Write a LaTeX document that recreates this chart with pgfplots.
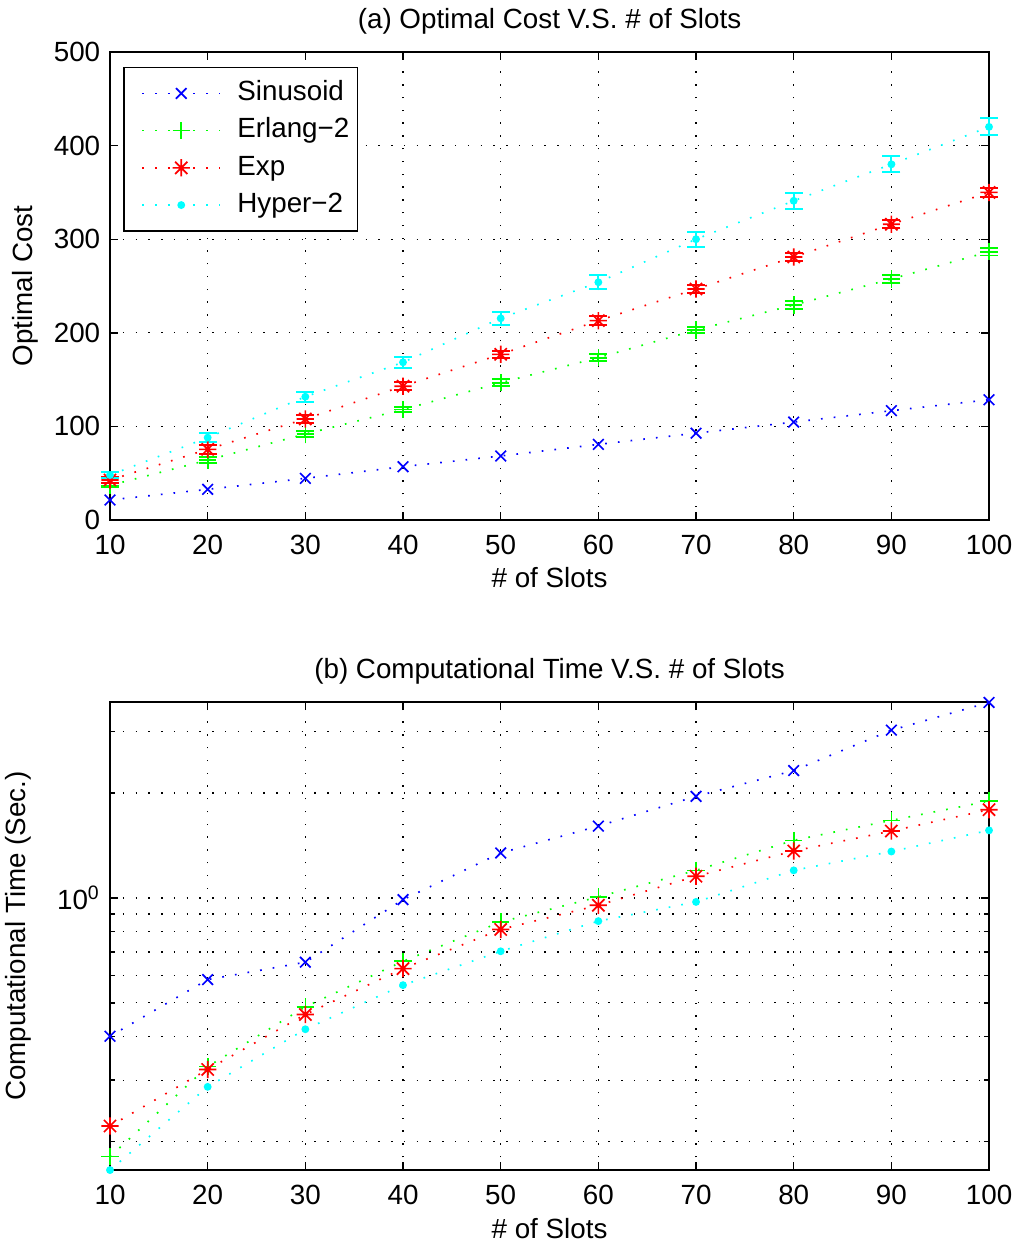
\documentclass[border=0pt]{standalone}
\usepackage{fontspec}
\setmainfont{Liberation Sans}
\usepackage{pgfplots}
\pgfplotsset{compat=1.18}

\definecolor{mblue}{rgb}{0,0,1}
\definecolor{mgreen}{rgb}{0,1,0}
\definecolor{mred}{rgb}{1,0,0}
\definecolor{mcyan}{rgb}{0,1,1}

% matlab style asterisk: + and x together
\pgfdeclareplotmark{star8}{%
  \pgfpathmoveto{\pgfqpoint{0pt}{\pgfplotmarksize}}%
  \pgfpathlineto{\pgfqpoint{0pt}{-\pgfplotmarksize}}%
  \pgfpathmoveto{\pgfqpoint{\pgfplotmarksize}{0pt}}%
  \pgfpathlineto{\pgfqpoint{-\pgfplotmarksize}{0pt}}%
  \pgfpathmoveto{\pgfqpoint{0.707\pgfplotmarksize}{0.707\pgfplotmarksize}}%
  \pgfpathlineto{\pgfqpoint{-0.707\pgfplotmarksize}{-0.707\pgfplotmarksize}}%
  \pgfpathmoveto{\pgfqpoint{-0.707\pgfplotmarksize}{0.707\pgfplotmarksize}}%
  \pgfpathlineto{\pgfqpoint{0.707\pgfplotmarksize}{-0.707\pgfplotmarksize}}%
  \pgfusepathqstroke}

\pgfplotsset{
  mline/.style={dash pattern=on 0.6pt off 4pt, line width=0.6pt},
  mat/.style={
    scale only axis, width=316.44pt, height=168.48pt,
    xmin=10, xmax=100, xtick={10,20,...,100},
    tick align=inside, major tick length=3pt, minor tick length=1.8pt,
    tick style={black, line width=0.5pt},
    axis line style={line width=0.7pt},
    grid style={black, line width=0.45pt, dash pattern=on 0.5pt off 4.1pt},
    clip=false,
    /pgf/number format/assume math mode=true,
    xticklabel style={yshift=-2pt},
    xlabel style={at={(axis description cs:0.5,-0.124)}, anchor=center},
    title style={at={(axis description cs:0.5,1)}, anchor=center, yshift=5pt},
    legend image code/.code={%
      \path (-5pt,0pt) (32.3pt,0pt);
      \draw[mark repeat=2,mark phase=2] plot coordinates {(0pt,0pt) (14pt,0pt) (28pt,0pt)};},
  },
  sin/.style={mblue, mline, mark=x, mark size=2.7pt, mark options={solid, line width=0.6pt}},
  erl/.style={mgreen, mline, mark=+, mark size=3.1pt, mark options={solid, line width=0.6pt}},
  exps/.style={mred, mline, mark=star8, mark size=3.1pt, mark options={solid, line width=0.6pt}},
  hyp/.style={mcyan, mline, mark=*, mark size=1.1pt, mark options={solid}},
  ebar/.style={error bars/.cd, y dir=both, y explicit,
    error mark=|,
    error bar style={solid, line width=0.7pt},
    error mark options={solid, line width=0.7pt, mark size=3.2pt}},
}

\begin{document}
\begin{tikzpicture}
\useasboundingbox (0pt,0pt) rectangle (366.8pt,-448.9pt);

\begin{axis}[mat,
  at={(39.6pt,-187.2pt)}, anchor=south west,
  ymin=0, ymax=500, ytick={0,100,...,500},
  grid=major,
  title={(a) Optimal Cost V.S. \# of Slots},
  xlabel={\# of Slots},
  ylabel={Optimal Cost},
  ylabel style={at={(axis description cs:-0.0967,0.5)}, anchor=center},
  legend style={at={(axis description cs:0.015,0.9685)}, anchor=north west,
    draw=black, line width=0.6pt, fill=white, cells={anchor=west},
    nodes={inner sep=1.6pt, text height=7.4pt, text depth=2.2pt},
    row sep=0.6pt, inner xsep=1.3pt, inner ysep=2.9pt},
]
\addplot[sin] coordinates {
  (10,21.4) (20,32.8) (30,44.5) (40,57) (50,68.4)
  (60,80.8) (70,92.8) (80,104.6) (90,116.8) (100,128.5)
};
\addlegendentry{Sinusoid}
\addplot[erl, ebar] table[x=x, y=y, y error=e] {
x y e
10 37 2
20 64 3
30 91.9 3
40 118 3
50 146.7 3.5
60 173.4 3.5
70 203 3.5
80 229.7 4
90 257.5 4
100 286.6 4
};
\addlegendentry{Erlang−2}
\addplot[exps, ebar] table[x=x, y=y, y error=e] {
x y e
10 42.7 3
20 75.5 4.5
30 108 4
40 143 4
50 177 4
60 213 4.5
70 246.8 4.5
80 281 4.5
90 316 4.5
100 350 4.5
};
\addlegendentry{Exp}
\addplot[hyp, ebar] table[x=x, y=y, y error=e] {
x y e
10 48 3
20 88 4.5
30 131.7 5.3
40 168.5 6
50 215.5 6.8
60 254 7.5
70 300 8
80 341 8.5
90 380 8.7
100 420 9
};
\addlegendentry{Hyper−2}
\end{axis}

\begin{axis}[mat,
  at={(39.6pt,-421.2pt)}, anchor=south west,
  ymode=log, ymin=0.1656, ymax=3.65,
  ytick={1}, yticklabels={10\textsuperscript{0}},
  minor ytick={0.2,0.3,0.4,0.5,0.6,0.7,0.8,0.9,2,3},
  grid=both,
  title={(b) Computational Time V.S. \# of Slots},
  xlabel={\# of Slots},
  ylabel={Computational Time (Sec.)},
  ylabel style={at={(axis description cs:-0.1046,0.5)}, anchor=center},
]
\addplot[sin] coordinates {
  (10,0.401) (20,0.583) (30,0.654) (40,0.989) (50,1.346)
  (60,1.608) (70,1.957) (80,2.32) (90,3.03) (100,3.64)
};
\addplot[erl] coordinates {
  (10,0.181) (20,0.328) (30,0.487) (40,0.658) (50,0.853)
  (60,1.007) (70,1.20) (80,1.463) (90,1.67) (100,1.897)
};
\addplot[exps] coordinates {
  (10,0.2215) (20,0.322) (30,0.463) (40,0.627) (50,0.812)
  (60,0.953) (70,1.154) (80,1.364) (90,1.556) (100,1.792)
};
\addplot[hyp] coordinates {
  (10,0.1656) (20,0.287) (30,0.420) (40,0.562) (50,0.703)
  (60,0.858) (70,0.974) (80,1.20) (90,1.359) (100,1.563)
};
\end{axis}
\end{tikzpicture}
\end{document}
